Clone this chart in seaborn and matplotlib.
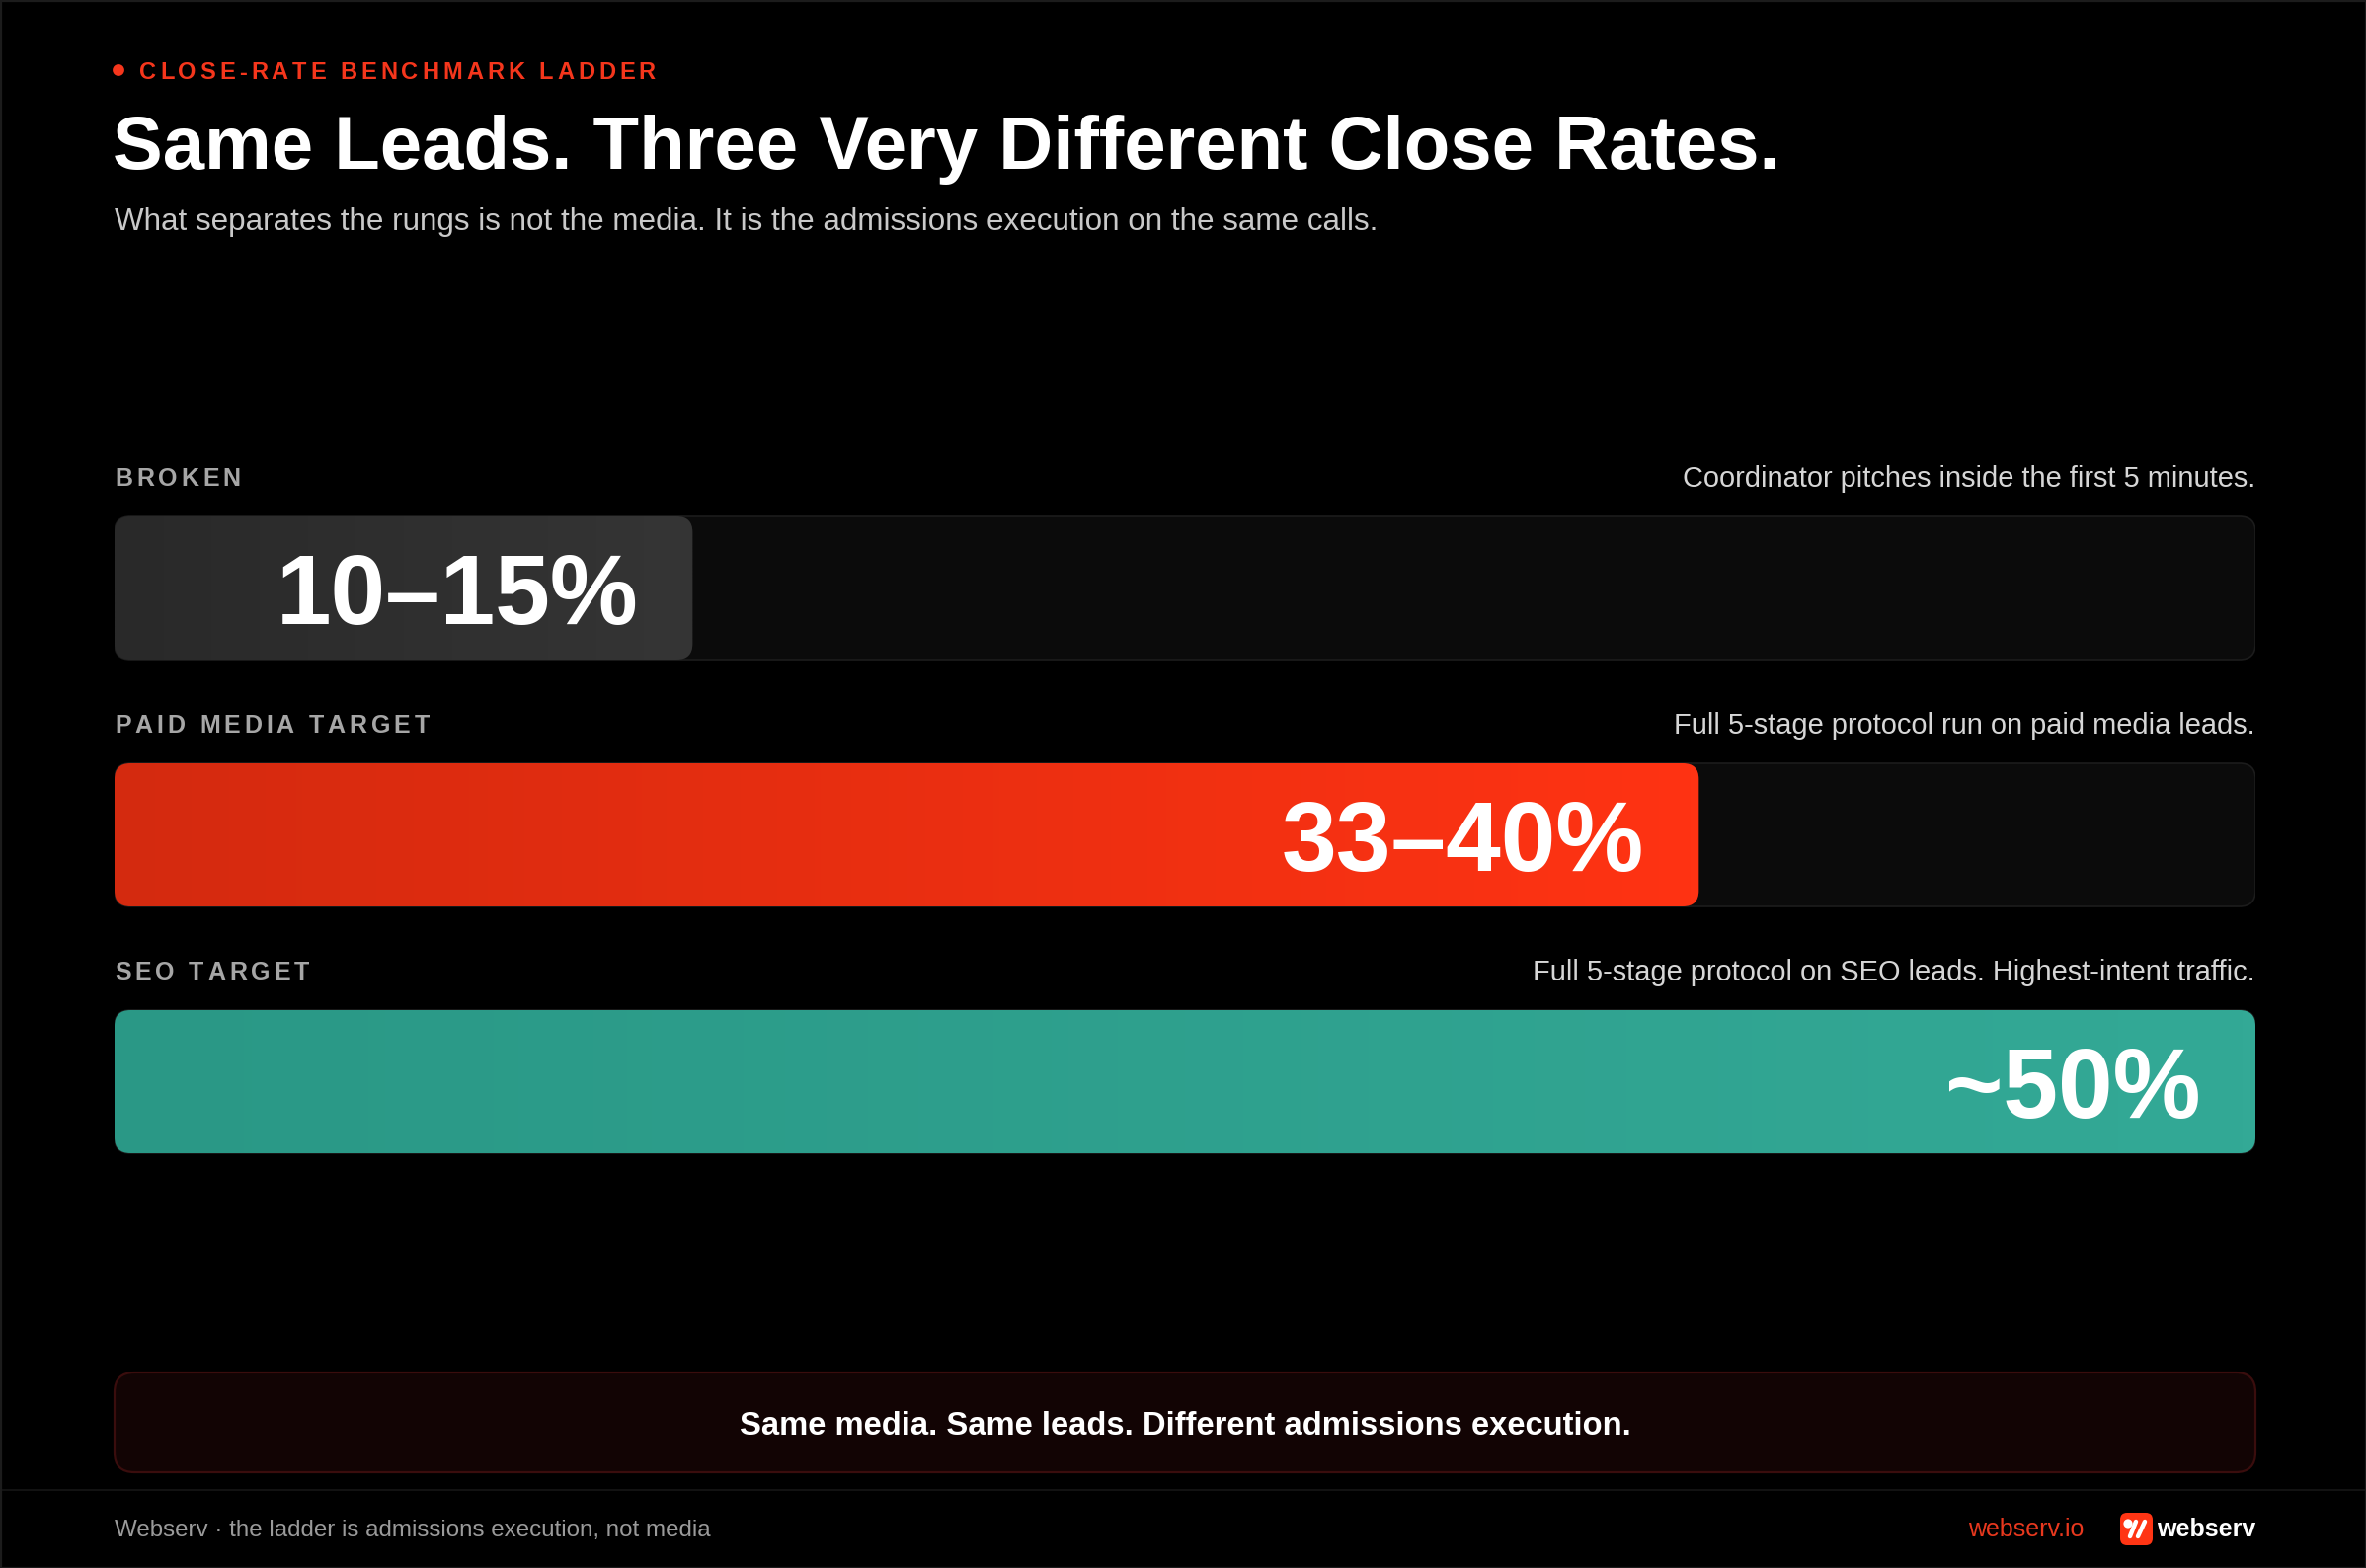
import numpy as np
import pandas as pd
import matplotlib
matplotlib.use("Agg")
import matplotlib.pyplot as plt
import seaborn as sns
from matplotlib.patches import FancyBboxPatch, Rectangle, Circle
from matplotlib.colors import LinearSegmentedColormap
from matplotlib.transforms import IdentityTransform
from matplotlib.lines import Line2D

# ---------------- data ----------------
rungs = ["BROKEN", "PAID MEDIA TARGET", "SEO TARGET"]
fill_share = [27, 74, 100]          # share of the track that is filled (%)
track_max = [100, 100, 100]
value_labels = ["10–15%", "33–40%", "~50%"]
notes = ["Coordinator pitches inside the first 5 minutes.",
         "Full 5-stage protocol run on paid media leads.",
         "Full 5-stage protocol on SEO leads. Highest-intent traffic."]
grad_left = ["#292929", "#d42a0f", "#2a9886"]
grad_right = ["#353535", "#ff3313", "#33a996"]

eyebrow = "CLOSE-RATE BENCHMARK LADDER"
title = "Same Leads. Three Very Different Close Rates."
subtitle = "What separates the rungs is not the media. It is the admissions execution on the same calls."
callout = "Same media. Same leads. Different admissions execution."
footer_left = "Webserv · the ladder is admissions execution, not media"
footer_url = "webserv.io"
brand = "webserv"

# ---------------- figure ----------------
W, H, DPI = 2396, 1588, 200
sns.set_theme(style="white")
plt.rcParams["font.family"] = ["Liberation Sans", "DejaVu Sans"]

fig = plt.figure(figsize=(W / DPI, H / DPI), dpi=DPI, facecolor="black")
ov = fig.add_axes([0, 0, 1, 1], zorder=0)
ov.set_xlim(0, W)
ov.set_ylim(H, 0)
ov.axis("off")

L, R = 116, 2284
ax = fig.add_axes([L / W, 1 - 1220.5 / H, (R - L) / W, 750 / H], zorder=1)
ax.patch.set_alpha(0)

df = pd.DataFrame({"rung": rungs, "fill": fill_share, "track": track_max})
sns.barplot(data=df, y="rung", x="track", orient="h", width=0.58,
            color="#0c0c0c", ax=ax)
sns.barplot(data=df, y="rung", x="fill", orient="h", width=0.58,
            color="#333333", ax=ax)
ax.set_xlim(0, 100)
ax.set_ylim(2.5, -0.5)
ax.axis("off")

fig.canvas.draw()
renderer = fig.canvas.get_renderer()

rects = list(ax.patches)
n = len(rungs)
tracks = sorted(rects[:n], key=lambda r: r.get_y())
fills = sorted(rects[n:], key=lambda r: r.get_y())


def to_px(r):
    x, y, w, h = r.get_x(), r.get_y(), r.get_width(), r.get_height()
    (x0, y0), (x1, y1) = ax.transData.transform([(x, y), (x + w, y + h)])
    X0, X1 = sorted([x0, x1])
    Y0, Y1 = sorted([y0, y1])
    return X0, Y0, X1 - X0, Y1 - Y0


RAD = 16
for i, r in enumerate(tracks):
    X, Y, Wd, Ht = to_px(r)
    r.set_visible(False)
    p = FancyBboxPatch((X, Y), Wd, Ht, boxstyle=f"round,pad=0,rounding_size={RAD}",
                       transform=IdentityTransform(), facecolor="#0b0b0b",
                       edgecolor="#1c1c1c", lw=0.6, zorder=1)
    ax.add_artist(p)

for i, r in enumerate(fills):
    X, Y, Wd, Ht = to_px(r)
    r.set_visible(False)
    clip = FancyBboxPatch((X, Y), Wd, Ht, boxstyle=f"round,pad=0,rounding_size={RAD}",
                          transform=IdentityTransform(), facecolor="none",
                          edgecolor="none")
    cmap = LinearSegmentedColormap.from_list(f"g{i}", [grad_left[i], grad_right[i]])
    x, y, w, h = r.get_x(), r.get_y(), r.get_width(), r.get_height()
    im = ax.imshow(np.linspace(0, 1, 256)[None, :], extent=(x, x + w, y + h, y),
                   cmap=cmap, aspect="auto", interpolation="bilinear", zorder=2)
    im.set_clip_path(clip)
    # value label
    ax.annotate(value_labels[i], xy=(x + w, y + h / 2), xytext=(-19.8, -13.0),
                textcoords="offset points", ha="right", va="baseline",
                fontsize=36, fontweight="bold", color="white", zorder=5)

ax.set_xlim(0, 100)
ax.set_ylim(2.5, -0.5)


# ---------------- text helpers ----------------
def spaced(x, y, s, track, **kw):
    fs_px = kw["fontsize"] * DPI / 72
    for ch in s:
        if ch == " ":
            x += fs_px * 0.28 + track
            continue
        t = ov.text(x, y, ch, ha="left", va="baseline", **kw)
        bb = t.get_window_extent(renderer)
        x += bb.width + track
    return x


# eyebrow
ov.add_patch(Circle((120, 71), 4.5, color="#f5361c", zorder=3))
spaced(141, 80.5, eyebrow, 3.95, fontsize=8.5, fontweight="bold", color="#f5361c")

# title + subtitle
ov.text(114, 171, title, ha="left", va="baseline", fontsize=27.4,
        fontweight="bold", color="white")
ov.text(116, 233, subtitle, ha="left", va="baseline", fontsize=11.3,
        color="#c9c9c9")

# rung labels + notes
for i, r in enumerate(tracks):
    X, Y, Wd, Ht = to_px(r)
    top = H - (Y + Ht)
    yb = top - 40 + 9
    spaced(116, yb, rungs[i], 3.9, fontsize=9, fontweight="bold", color="#a6a6a6")
    ov.text(R, yb + 1, notes[i], ha="right", va="baseline", fontsize=10.45,
            color="#d6d6d6")

# callout box
box = FancyBboxPatch((L, 1390), R - L, 101, boxstyle="round,pad=0,rounding_size=20",
                     facecolor="#120404", edgecolor="#3a0d0d", lw=0.8, zorder=2)
ov.add_patch(box)
ov.text((L + R) / 2, 1453, callout, ha="center", va="baseline", fontsize=11.8,
        fontweight="bold", color="white", zorder=3)

# footer
ov.add_line(Line2D([0, W], [1509, 1509], color="#161616", lw=0.6))
ov.text(116, 1556, footer_left, ha="left", va="baseline", fontsize=8.7,
        color="#9a9a9a")
ov.text(2110, 1556, footer_url, ha="right", va="baseline", fontsize=9.0,
        color="#e8381e")
logo = FancyBboxPatch((2147, 1532), 33, 33, boxstyle="round,pad=0,rounding_size=7",
                      facecolor="#ff3514", edgecolor="none", zorder=3)
ov.add_patch(logo)
ov.add_patch(Circle((2155, 1543), 3.2, color="white", zorder=4))
ov.add_line(Line2D([2157, 2163], [1556, 1541], color="white", lw=1.6,
                   solid_capstyle="round", zorder=4))
ov.add_line(Line2D([2165, 2172], [1556, 1541], color="white", lw=1.6,
                   solid_capstyle="round", zorder=4))
ov.text(2284, 1556, brand, ha="right", va="baseline", fontsize=9.0,
        fontweight="bold", color="white")

# frame
ov.add_patch(Rectangle((0.5, 0.5), W - 1, H - 1, fill=False, edgecolor="#1c1c1c",
                       lw=0.8, zorder=5))

fig.savefig("out.png", dpi=DPI, facecolor="black")
